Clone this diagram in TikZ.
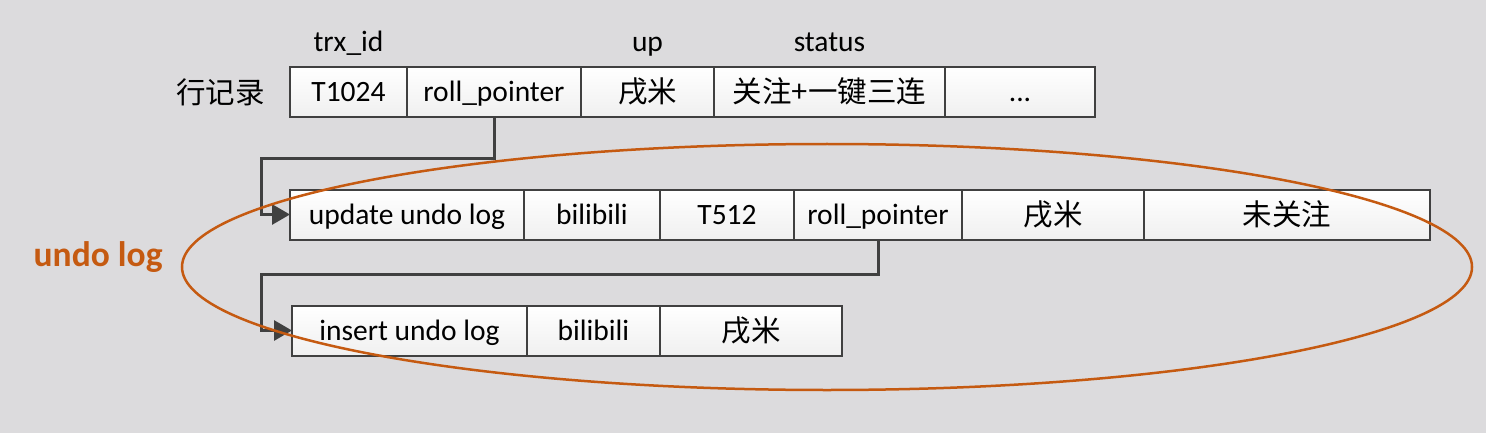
\documentclass[tikz,border=0pt]{standalone}
\usepackage{fontspec}
\setmainfont{Carlito}
\newfontfamily\cjk{Noto Sans CJK SC}
\usetikzlibrary{positioning,arrows.meta,shapes.geometric}
\definecolor{bgcol}{RGB}{220,219,221}
\definecolor{edgecol}{RGB}{64,64,64}
\definecolor{ringcol}{RGB}{197,90,17}
\newcommand{\zh}[1]{\raisebox{-0.05em}{\cjk #1}}

\begin{document}
\begin{tikzpicture}[x=1pt,y=-1pt,
    cell/.style={draw=edgecol, line width=2pt, top color=white, bottom color=black!6,
      minimum height=50pt, inner sep=0pt, outer sep=0pt,
      text height=26pt, text depth=7pt, font=\fontsize{29.5}{35}\selectfont},
    hdr/.style={anchor=base, inner sep=0pt, font=\fontsize{29.5}{35}\selectfont},
    link/.style={draw=edgecol, line width=3pt, -{Triangle[length=18pt,width=20pt]}}]

      \fill[bgcol] (0,0) rectangle (1486,433);

      %%% row record %%%
      \node (t1024) at (348.5,92) [cell, minimum width=117pt] {T1024};
      \node (roll1) [cell, minimum width=174pt, right=0pt of t1024] {roll\_pointer};
      \node (up1) [cell, minimum width=133pt, right=0pt of roll1] {\zh{戌米}};
      \node (stat1) [cell, minimum width=231pt, right=0pt of up1] {\zh{关注+一键三连}};
      \node (more1) [cell, minimum width=150pt, right=0pt of stat1] {...};

      \node (rowrec) [left=25pt of t1024, inner sep=0pt, font=\fontsize{29.5}{35}\selectfont] {\cjk 行记录};
      \node (hdrtrx) at ([yshift=15pt]t1024.north) [hdr] {trx\_id};
      \node (hdrup) at ([yshift=15pt]up1.north) [hdr] {up};
      \node (hdrstat) at ([yshift=15pt]stat1.north) [hdr] {status};

      %%% update undo log %%%
      \node (upd) at (290,214.5) [cell, minimum width=234pt, anchor=west] {update undo log};
      \node (bili2) [cell, minimum width=136pt, right=0pt of upd] {bilibili};
      \node (t512) [cell, minimum width=134pt, right=0pt of bili2] {T512};
      \node (roll2) [cell, minimum width=168pt, right=0pt of t512] {roll\_pointer};
      \node (up2) [cell, minimum width=182pt, right=0pt of roll2] {\zh{戌米}};
      \node (stat2) [cell, minimum width=286pt, right=0pt of up2] {\zh{未关注}};

      %%% insert undo log %%%
      \node (ins) at (292,330.5) [cell, minimum width=235pt, anchor=west] {insert undo log};
      \node (bili3) [cell, minimum width=133pt, right=0pt of ins] {bilibili};
      \node (up3) [cell, minimum width=182pt, right=0pt of bili3] {\zh{戌米}};

      % pointers
      \coordinate (bend1) at (261,159);
      \coordinate (bend2) at (261,274);
      \draw[link] (roll1.south) |- (bend1) |- (upd.west);
      \draw[link] (roll2.south) |- (bend2) |- (ins.west);

      % undo log ring
      \node (ring) at (827,267) [draw=ringcol, line width=2.5pt, ellipse, inner sep=0pt,
        minimum width=1290pt, minimum height=246pt] {};
      \node (undolbl) [left=18pt of ring, yshift=10pt, inner sep=0pt, text=ringcol,
        font=\fontsize{35.5}{40}\selectfont\bfseries] {undo log};

\end{tikzpicture}
\end{document}
